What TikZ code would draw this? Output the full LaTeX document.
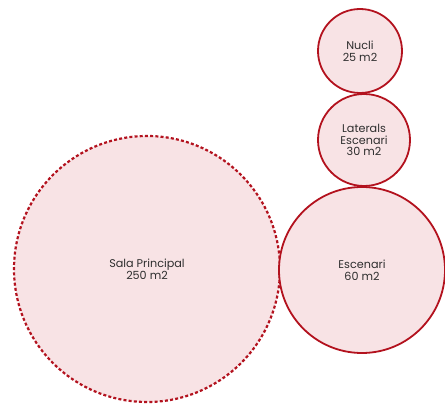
\documentclass[tikz,border=0pt]{standalone}
\usepackage{fontspec}
\setmainfont{Poppins}
\usepackage{tikz}
\definecolor{roomred}{HTML}{B3121E}
\definecolor{roomfill}{HTML}{F8E3E5}
\definecolor{roomtext}{HTML}{2E2E2E}
\tikzset{room/.style={circle, draw=roomred, fill=roomfill, line width=1.8pt,
  inner sep=0pt, align=center, text=roomtext, font=\fontsize{11.2}{11.8}\selectfont}}

\begin{document}
\begin{tikzpicture}[x=1pt,y=-1pt]
\useasboundingbox (0,0) rectangle (445,406);
\node[room, minimum size=266pt, dash pattern=on 3pt off 2.2pt, line width=2.2pt]
  (sala) at (147,269) {Sala Principal\\250 m2};
\node[room, minimum size=166pt] (escenari) at (362,270) {Escenari\\60 m2};
\node[room, minimum size=92pt] (laterals) at (364,140) {Laterals\\Escenari\\30 m2};
\node[room, minimum size=84pt] (nucli) at (360,51) {Nucli\\25 m2};
\end{tikzpicture}
\end{document}
